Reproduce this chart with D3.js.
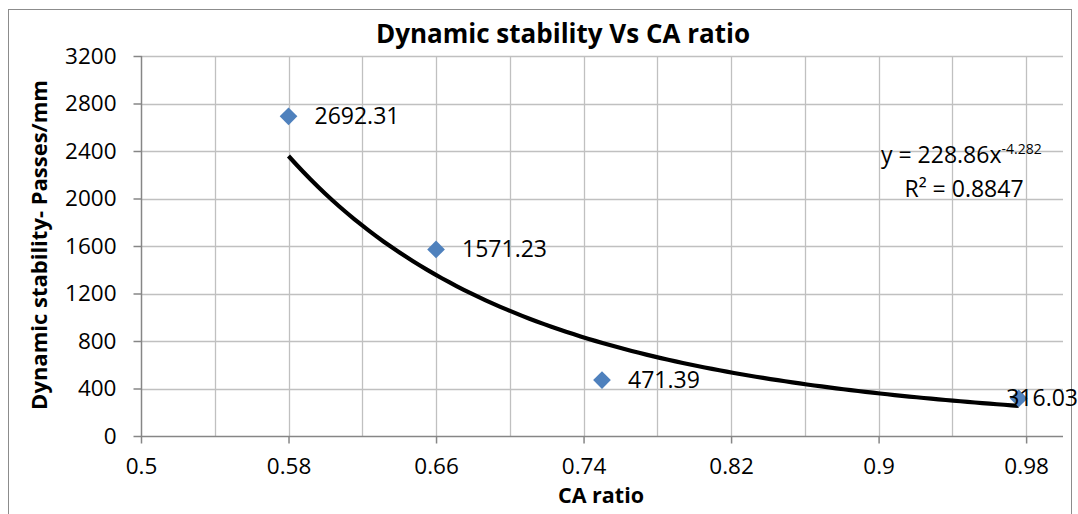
<!DOCTYPE html>
<html><head><meta charset="utf-8">
<script src="https://cdn.jsdelivr.net/npm/d3@7"></script>
<style>body{margin:0;background:#fff}svg{display:block}text{font-family:"Open Sans",sans-serif}</style>
</head><body><svg id="c" width="1078" height="514"></svg>
<script>
const caRatio = [0.58, 0.66, 0.75, 0.976];
const stability = [2692.31, 1571.23, 471.39, 316.03];
const xTicks = [0.5, 0.58, 0.66, 0.74, 0.82, 0.9, 0.98];
const xGrid = [0.54, 0.58, 0.62, 0.66, 0.70, 0.74, 0.78, 0.82, 0.86, 0.9, 0.94, 0.98];
const yTicks = [0, 400, 800, 1200, 1600, 2000, 2400, 2800, 3200];
const trendCoef = [228.86, -4.282];
const rSquared = 0.8847;

const svg = d3.select("#c");
const m = {l:141, r:1063, t:56, b:436};
const x = d3.scaleLinear().domain([0.5, 1.0]).range([m.l, m.r]);
const y = d3.scaleLinear().domain([0, 3200]).range([m.b, m.t]);

svg.append("rect").attr("x",8.5).attr("y",9.5).attr("width",1063).attr("height",530)
  .attr("fill","none").attr("stroke","#8c8c8c").attr("stroke-width",1);

// gridlines
svg.append("g").selectAll("line").data(xGrid).join("line")
  .attr("x1",d=>Math.round(x(d))+0.5).attr("x2",d=>Math.round(x(d))+0.5)
  .attr("y1",m.t).attr("y2",m.b).attr("stroke","#c0c0c0").attr("stroke-width",1.3);
svg.append("g").selectAll("line").data(yTicks.slice(1)).join("line")
  .attr("x1",m.l).attr("x2",m.r)
  .attr("y1",d=>Math.round(y(d))+0.5).attr("y2",d=>Math.round(y(d))+0.5)
  .attr("stroke","#c0c0c0").attr("stroke-width",1.3);

// axes
const yAxis = d3.axisLeft(y).tickValues(yTicks).tickSize(8).tickPadding(17).tickFormat(d3.format("d"));
const gy = svg.append("g").attr("transform",`translate(${m.l+0.5},0)`).call(yAxis);
const xAxis = d3.axisBottom(x).tickValues(xTicks).tickSize(7).tickPadding(15).tickFormat(d=>String(d));
const gx = svg.append("g").attr("transform",`translate(0,${m.b+0.5})`).call(xAxis);
[gx,gy].forEach(g=>{
  g.select(".domain").attr("stroke","#868686").attr("stroke-width",1.5);
  g.selectAll(".tick line").attr("stroke","#868686").attr("stroke-width",1.5);
  g.selectAll(".tick text").attr("fill","#000").style("font-size","22.5px").style("font-family","'Open Sans',sans-serif");
});
gx.select(".domain").attr("d",`M${m.l},0H${m.r}`);
gy.select(".domain").attr("d",`M0,${m.b}V${m.t}`);

// trendline
const xs = d3.range(0, 101).map(i => caRatio[0] + (caRatio[caRatio.length-1]-caRatio[0])*i/100);
const line = d3.line().x(d=>x(d)).y(d=>y(trendCoef[0]*Math.pow(d,trendCoef[1])));
svg.append("path").attr("d",line(xs)).attr("fill","none").attr("stroke","#000").attr("stroke-width",4.2);

// points
const pts = caRatio.map((c,i)=>({c, v:stability[i]}));
svg.append("g").selectAll("path").data(pts).join("path")
  .attr("d",d3.symbol().type(d3.symbolDiamond2).size(200))
  .attr("transform",d=>`translate(${x(d.c)},${y(d.v)})`)
  .attr("fill","#4f81bd");

// labels
const lab = svg.append("g").selectAll("text").data(pts).join("text")
  .attr("x",d=>x(d.c)+26).attr("y",d=>y(d.v)+8)
  .style("font-size","23px").attr("fill","#000").text(d=>d.v.toFixed(2));
lab.each(function(d){
  const w = this.getComputedTextLength();
  const xx = x(d.c)+26;
  if (xx + w > 1078) d3.select(this).attr("x", 1078 - w);
});

// equation
const eq = svg.append("text").attr("x",881).attr("y",163).style("font-size","23px");
eq.append("tspan").text(`y = ${trendCoef[0]}x`);
eq.append("tspan").attr("dy",-9).style("font-size","14px").text(trendCoef[1]);
svg.append("text").attr("x",964).attr("y",197).attr("text-anchor","middle").style("font-size","23px")
  .text(`R² = ${rSquared}`);

// titles
svg.append("text").attr("x",563).attr("y",43).attr("text-anchor","middle")
  .style("font-size","26px").style("font-weight","bold").text("Dynamic stability Vs CA ratio");
svg.append("text").attr("x",601).attr("y",503).attr("text-anchor","middle")
  .style("font-size","21.5px").style("font-weight","bold").text("CA ratio");
svg.append("text").attr("transform","translate(47,245) rotate(-90)").attr("text-anchor","middle")
  .style("font-size","22px").style("font-weight","bold").text("Dynamic stability- Passes/mm");
</script></body></html>
